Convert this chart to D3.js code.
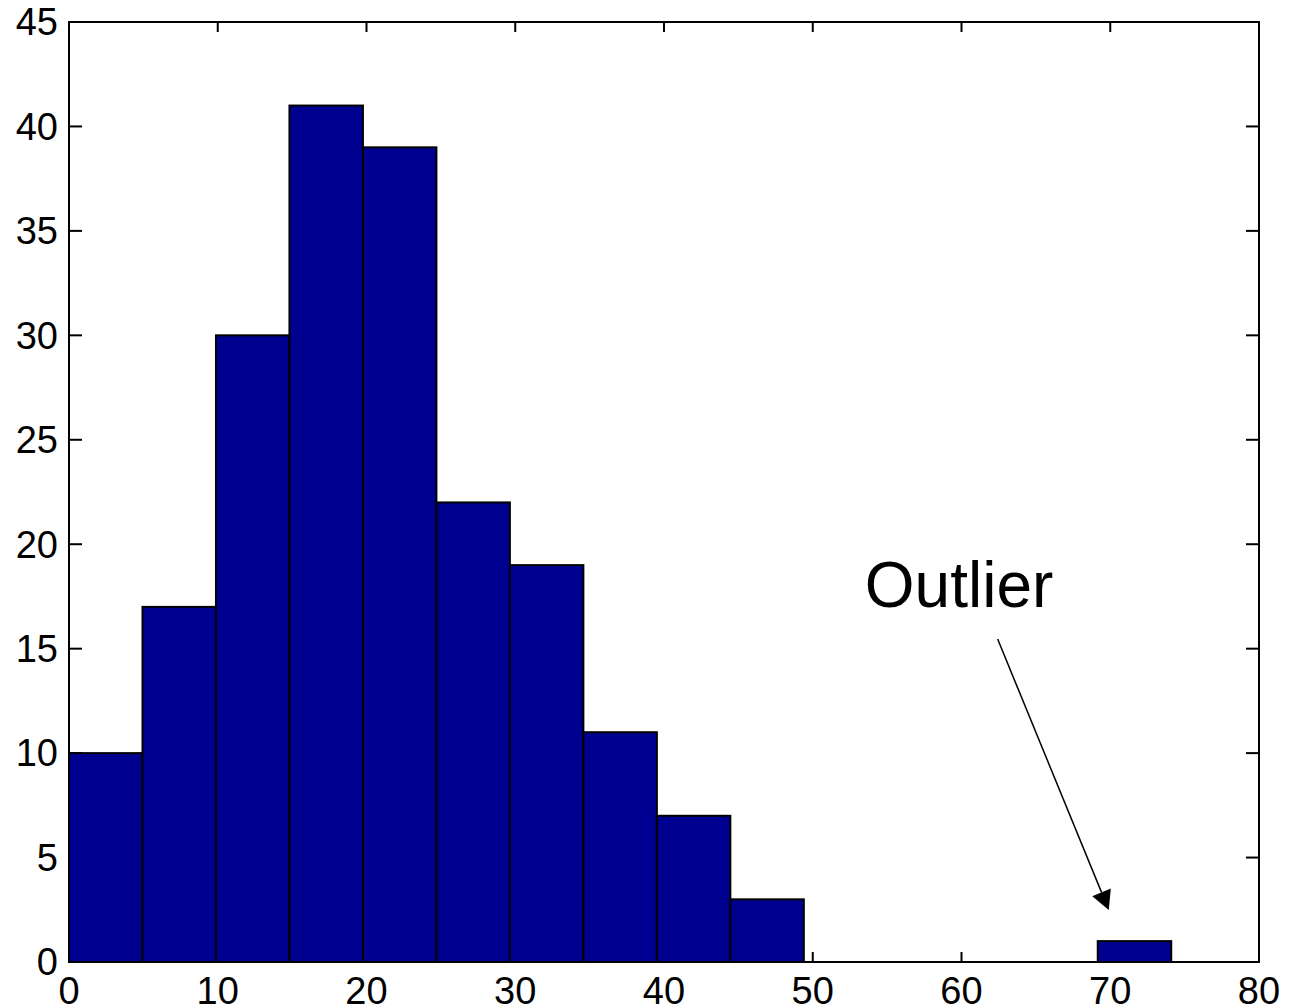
<!DOCTYPE html>
<html>
<head>
<meta charset="utf-8">
<script src="https://cdn.jsdelivr.net/npm/d3@7"></script>
<style>
  html, body { margin: 0; padding: 0; background: #fff; }
  svg { display: block; }
  text { font-family: "Liberation Sans", Arial, sans-serif; fill: #000; }
</style>
</head>
<body>
<script>
// ---- data ----
const binLeft = [0, 4.94, 9.88, 14.82, 19.76, 24.7, 29.64, 34.58, 39.52, 44.46, 49.4, 54.34, 59.28, 64.22, 69.16];
const binWidth = 4.94;
const counts = [10, 17, 30, 41, 39, 22, 19, 11, 7, 3, 0, 0, 0, 0, 1];
const xTicks = [0, 10, 20, 30, 40, 50, 60, 70, 80];
const yTicks = [0, 5, 10, 15, 20, 25, 30, 35, 40, 45];
const annotationText = "Outlier";
const annotationTextPos = [53.5, 17.0];
const arrowFrom = [62.43, 15.46];
const arrowTo = [69.9, 2.49];

// ---- layout ----
const W = 1292, H = 1007;
const L = 69, R = 1259, T = 22, B = 962;
const svg = d3.select("body").append("svg").attr("width", W).attr("height", H);

const x = d3.scaleLinear().domain([0, 80]).range([L, R]);
const y = d3.scaleLinear().domain([0, 45]).range([B, T]);

// ticks (drawn under bars)
const tg = svg.append("g").attr("stroke", "#000").attr("stroke-width", 2);
tg.selectAll("line.yl").data(yTicks).join("line")
  .attr("x1", L).attr("x2", L + 13).attr("y1", d => y(d)).attr("y2", d => y(d));
tg.selectAll("line.yr").data(yTicks).join("line")
  .attr("x1", R).attr("x2", R - 13).attr("y1", d => y(d)).attr("y2", d => y(d));
tg.selectAll("line.xb").data(xTicks).join("line")
  .attr("x1", d => x(d)).attr("x2", d => x(d)).attr("y1", B).attr("y2", B - 10);
tg.selectAll("line.xt").data(xTicks).join("line")
  .attr("x1", d => x(d)).attr("x2", d => x(d)).attr("y1", T).attr("y2", T + 10);

// bars
const bars = binLeft.map((b, i) => ({ x0: b, x1: b + binWidth, c: counts[i] })).filter(d => d.c > 0);
svg.append("g").selectAll("rect").data(bars).join("rect")
  .attr("x", d => x(d.x0)).attr("width", d => x(d.x1) - x(d.x0))
  .attr("y", d => y(d.c)).attr("height", d => y(0) - y(d.c))
  .attr("fill", "#000090").attr("stroke", "#000").attr("stroke-width", 2);

// axes box
svg.append("rect").attr("x", L).attr("y", T).attr("width", R - L).attr("height", B - T)
  .attr("fill", "none").attr("stroke", "#000").attr("stroke-width", 2);

// tick labels
svg.append("g").selectAll("text").data(yTicks).join("text")
  .attr("x", L - 11).attr("y", d => y(d)).attr("dy", "0.35em")
  .attr("text-anchor", "end").attr("font-size", 38).text(d => d);
svg.append("g").selectAll("text").data(xTicks).join("text")
  .attr("x", d => x(d)).attr("y", B + 42)
  .attr("text-anchor", "middle").attr("font-size", 38).text(d => d);

// annotation
svg.append("text").attr("x", x(annotationTextPos[0])).attr("y", y(annotationTextPos[1]))
  .attr("font-size", 64).text(annotationText);

const ax0 = x(arrowFrom[0]), ay0 = y(arrowFrom[1]);
const ax1 = x(arrowTo[0]), ay1 = y(arrowTo[1]);
const ang = Math.atan2(ay1 - ay0, ax1 - ax0);
const headLen = 19, headHalf = 10;
const bx = ax1 - headLen * Math.cos(ang), by = ay1 - headLen * Math.sin(ang);
svg.append("line").attr("x1", ax0).attr("y1", ay0).attr("x2", bx).attr("y2", by)
  .attr("stroke", "#000").attr("stroke-width", 1.5);
const px = -Math.sin(ang), py = Math.cos(ang);
svg.append("polygon")
  .attr("points", [[ax1, ay1], [bx + px * headHalf, by + py * headHalf], [bx - px * headHalf, by - py * headHalf]].map(p => p.join(",")).join(" "))
  .attr("fill", "#000");
</script>
</body>
</html>
